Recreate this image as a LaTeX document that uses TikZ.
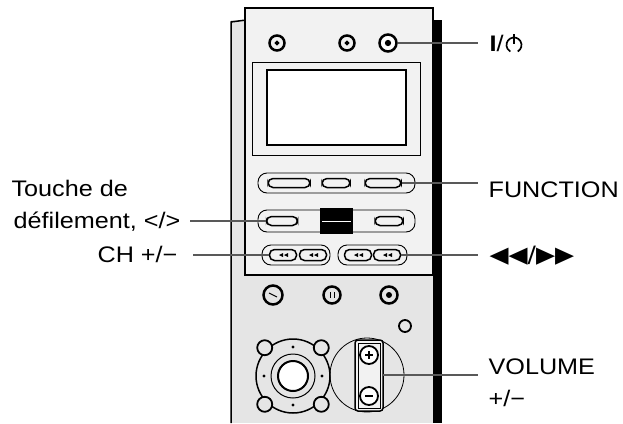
\documentclass[tikz,border=0pt]{standalone}
\usepackage{fontspec}
\setmainfont{Liberation Sans}[FakeStretch=1.12]
\newfontfamily\dejavu{DejaVu Sans}[FakeStretch=1.1]
\begin{document}
\begin{tikzpicture}[x=1pt,y=-1pt,line width=1.2pt,
  lbl/.style={font=\fontsize{22.5}{25}\selectfont,inner sep=0pt},
  lead/.style={line width=1.4pt,black!65},
  pill/.style={draw,rounded corners=5pt,line width=1.5pt},
  pillo/.style={draw,rounded corners=9pt,line width=0.9pt},
  knob/.style={draw,circle,line width=2.5pt,minimum size=15pt,inner sep=0pt}]
\useasboundingbox (0,0) rectangle (623,423);
% body
\fill[black!10] (231,20) rectangle (440,423);
\draw[line width=1.5pt] (231,423) -- (231,22) -- (246,20);
\fill (433,20) rectangle (442,423);
\draw[fill=black!5] (245,8) rectangle (433,275);
% top knobs
\node[knob] (k1) at (277,43) {};
\node[knob] (k2) at (347,43) {};
\node[knob,fill=white,minimum size=17pt] (k3) at (388,43) {};
\draw[fill=black] (k3) circle (2.5pt);
\draw[fill=black] (k1) circle (1.8pt);
\draw[fill=black] (k2) circle (1.8pt);
% screen
\draw[line width=0.8pt] (252,62) rectangle (420,155);
\draw[line width=1.6pt,fill=white] (267,70) rectangle (406,145);
% function row
\draw[pillo] (258,173) rectangle (415,193);
\node[pill,minimum width=42pt,minimum height=9pt] (f1) at (289,183) {};
\node[pill,minimum width=28pt,minimum height=9pt] (f2) at (336,183) {};
\node[pill,minimum width=36pt,minimum height=9pt] (f3) at (383,183) {};
% scroll row
\draw[pillo] (258,210) rectangle (415,232);
\node[pill,minimum width=31pt,minimum height=9pt] (s1) at (282,221) {};
\fill (320,208) rectangle (353,234);
\draw[white,line width=1pt] (322,221) -- (351,221);
\node[pill,minimum width=28pt,minimum height=9pt] (s2) at (389,221) {};
% CH row
\draw[pillo] (262,245) rectangle (330,265);
\draw[pillo] (338,245) rectangle (407,265);
\node[pill,minimum width=27pt,minimum height=11pt] (c1) at (283,255) {};
\node[pill,minimum width=27pt,minimum height=11pt] (c2) at (313,255) {};
\node[pill,minimum width=27pt,minimum height=11pt] (c3) at (358,255) {};
\node[pill,minimum width=27pt,minimum height=11pt] (c4) at (387,255) {};
\foreach \c in {c1,c2,c3,c4}{\fill (\c) ++(-4,0) -- ++(4,-2) -- ++(0,4) -- cycle; \fill (\c) ++(1,0) -- ++(4,-2) -- ++(0,4) -- cycle;}
% three buttons
\node[knob,minimum size=19pt] (b1) at (273,295) {};
\node[knob,minimum size=17pt] (b2) at (332,295) {};
\node[knob,minimum size=17pt] (b3) at (389,295) {};
\fill (b3) circle (3pt);
\draw[line width=1pt] (b2) ++(-2,-3) -- ++(0,6) ++(4,-6) -- ++(0,6);
\draw[line width=1pt] (b1) ++(-4,-2) -- ++(8,4);
\node[draw,circle,line width=1.8pt,minimum size=12pt] (sc) at (405,326) {};
% dpad
\coordinate (dp) at (293,376);
\draw[line width=1.5pt] (dp) circle (37);
\foreach \a in {45,135,225,315}{\draw[line width=1.8pt,fill=black!10] (dp) ++(\a:40) circle (7.5);}
\draw[line width=1pt] (dp) circle (22);
\draw[line width=2pt,fill=white] (dp) circle (15);
\foreach \a in {0,90,180,270}{\fill (dp) ++(\a:29) circle (1.6pt);}
% volume
\coordinate (vc) at (367,375);
\draw[line width=0.8pt] (vc) circle (37);
\draw[line width=1.5pt,fill=black!5,rounded corners=3pt] (355,340) rectangle (383,411);
\draw[line width=0.8pt] (358,343) rectangle (380,408);
\node[knob,fill=white,minimum size=18pt,line width=1.8pt] (vp) at (369,355) {};
\node[knob,fill=white,minimum size=18pt,line width=1.8pt] (vm) at (369,396) {};
\draw[line width=1.4pt] (vp) ++(-4,0) -- ++(8,0) (vp) ++(0,-4) -- ++(0,8);
\draw[line width=1.4pt] (vm) ++(-4,0) -- ++(8,0);
% labels
\node[lbl,anchor=west] (tpw) at (489,43) {\textbf{I}/\phantom{MM}};
\draw[line width=1.7pt] (514,45) ++(60:7.5) arc (60:-240:7.5);
\draw[line width=1.7pt] (514,34) -- (514,44);
\node[lbl,anchor=west] (tfn) at (488,190) {FUNCTION};
\node[lbl,anchor=west] (tff) at (489,256) {\dejavu ◀◀/▶▶};
\node[lbl,anchor=west] (tvo) at (488,367) {VOLUME};
\node[lbl,anchor=west] (tvp) at (488,398) {+/−};
\node[lbl,anchor=west] (tto) at (11,188) {Touche de};
\node[lbl,anchor=east] (tde) at (181,222) {défilement, </>};
\node[lbl,anchor=east] (tch) at (178,254) {CH +/−};
% leaders
\draw[lead] (k3) -- (478,43);
\draw[lead] (f3.east) -- (478,183);
\draw[lead] (s1.west) -- (190,221);
\draw[lead] (c1.west) -- (193,255);
\draw[lead] (c4.east) -- (478,255);
\draw[lead] (383,375) -- (478,375);
\end{tikzpicture}
\end{document}
